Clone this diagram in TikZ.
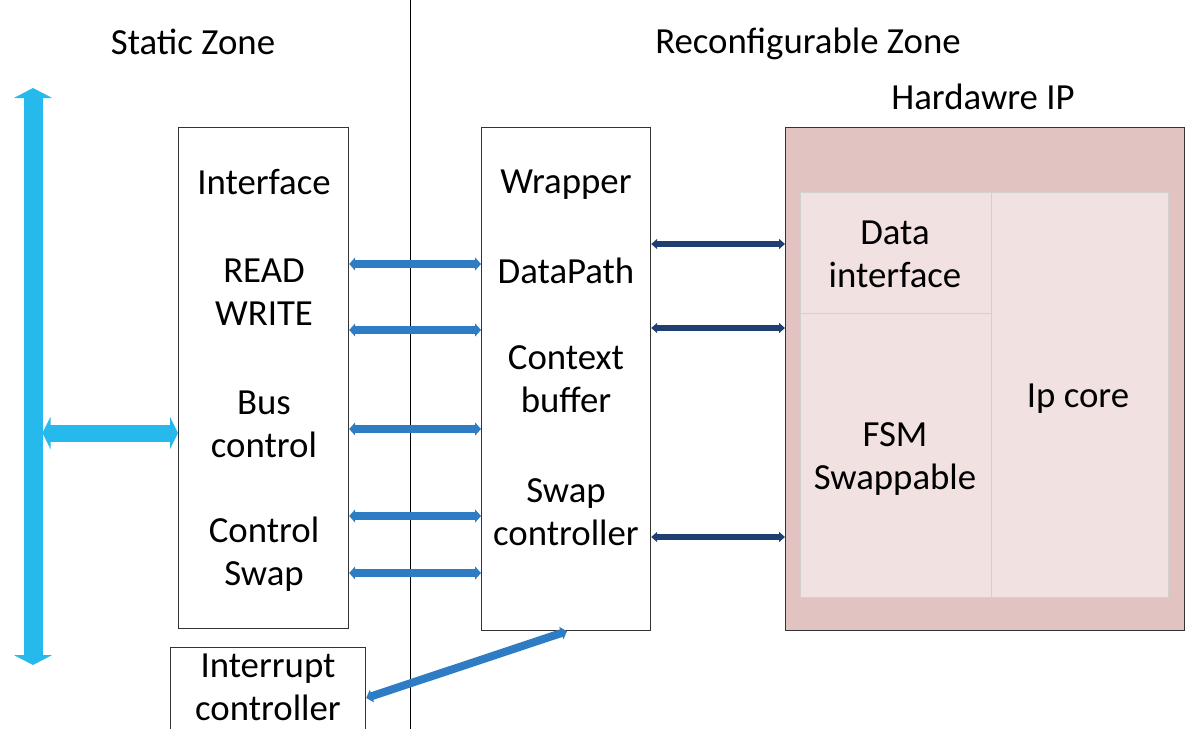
\documentclass[tikz,border=0pt]{standalone}
\usepackage{fontspec}
\setmainfont{Carlito}
\usetikzlibrary{arrows.meta,positioning}
\definecolor{buscyan}{RGB}{37,185,236}
\definecolor{linkblue}{RGB}{46,125,196}
\definecolor{ipnavy}{RGB}{31,62,114}
\definecolor{ipouter}{RGB}{225,195,193}
\definecolor{ipinner}{RGB}{241,225,224}
\begin{document}
\begin{tikzpicture}[x=0.5pt,y=-0.5pt,
    box/.style={draw=black!80,line width=0.6pt,anchor=north west,inner sep=0pt},
    cell/.style={box,draw=black!18,fill=ipinner},
    lbl/.style={align=center,inner sep=0pt,font=\fontsize{18.4}{21.5}\selectfont},
    link/.style={draw=linkblue,line width=4pt,{Triangle[width=6.5pt,length=3pt]}-{Triangle[width=6.5pt,length=3pt]}},
    iplink/.style={draw=ipnavy,line width=3pt,{Triangle[width=5pt,length=3pt]}-{Triangle[width=5pt,length=3pt]}}]
    \clip (0,0) rectangle (1185,729);
    \draw[black,line width=0.5pt] (410,0) -- (410,729);
    \node[lbl] (static) at (193,42) {Static Zone};
    \node[lbl] (reconf) at (808,44) {Reconfigurable Zone};
    \node[lbl] (hwlbl) at (983,97) {Hardawre IP};

    \node[box,minimum width=85pt,minimum height=250.5pt] (iface) at (178,127) {};
    \node[box,minimum width=84.5pt,minimum height=251.5pt] (wrap) at (481,127) {};
    \node[box,fill=ipouter,minimum width=199.5pt,minimum height=251.5pt] (hwip) at (785,127) {};
    \node[cell,minimum width=95.5pt,minimum height=60.5pt] (datai) at (800,192) {};
    \node[cell,minimum width=95.5pt,minimum height=142pt] (fsm) at (800,313) {};
    \node[cell,minimum width=88.5pt,minimum height=202.5pt] (ipcore) at (991,192) {};
    \node[box,minimum width=97.5pt,minimum height=60pt] (intr) at (170,647) {};

    \node[lbl] (ifacet) at (264,182) {Interface};
    \node[lbl] (rw) at (264,292) {READ\\WRITE};
    \node[lbl] (busc) at (264,424) {Bus\\control};
    \node[lbl] (ctrls) at (264,554) {Control\\Swap};
    \node[lbl] (wrapt) at (566,185) {Wrapper};
    \node[lbl] (dpath) at (566,271) {DataPath};
    \node[lbl] (ctx) at (566,379) {Context\\buffer};
    \node[lbl] (swapc) at (566,512) {Swap\\controller};
    \node[lbl] (datat) at (895,254) {Data\\interface};
    \node[lbl] (fsmt) at (895,459) {FSM\\Swappable};
    \node[lbl] (ipt) at (1078,399) {Ip core};
    \node[lbl] (intrt) at (268,687) {Interrupt\\controller};

    \coordinate (bustop) at (33,88);
    \coordinate (busbot) at (33,665);
    \draw[buscyan,line width=9.5pt,{Triangle[width=19pt,length=5pt]}-{Triangle[width=19pt,length=5pt]}] (bustop) -- (busbot);
    \draw[buscyan,line width=8.5pt,{Triangle[width=16pt,length=4pt]}-{Triangle[width=16pt,length=4pt]}] ([xshift=4.75pt]bustop |- 0,433) -- (iface.west |- 0,433);

    \foreach \y in {264,330,429,516,573}
        \draw[link] (iface.east |- 0,\y) -- (wrap.west |- 0,\y);
    \foreach \y in {244,328,537}
        \draw[iplink] (wrap.east |- 0,\y) -- (hwip.west |- 0,\y);
    \draw[link] (intr.east |- 0,698) -- (wrap.south -| 567,0);
\end{tikzpicture}
\end{document}
